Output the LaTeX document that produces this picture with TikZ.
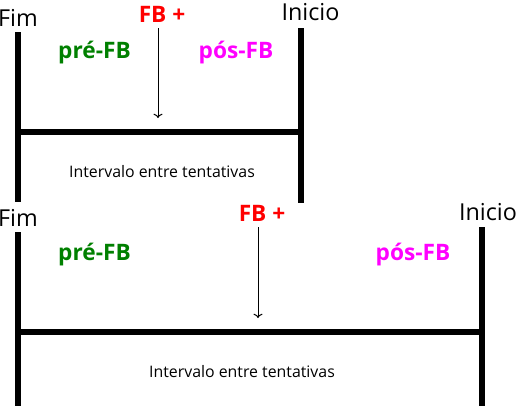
\documentclass[tikz,border=0pt]{standalone}
\usepackage{fontspec}
\setmainfont{Open Sans}
\usetikzlibrary{arrows.meta}

\definecolor{preclr}{RGB}{0,128,0}
\definecolor{posclr}{RGB}{255,0,255}

\begin{document}
\begin{tikzpicture}[x=0.75pt, y=-0.75pt, >=To,
    bar/.style={line width=3.8pt},
    timelbl/.style={font=\fontsize{17.5}{20}\selectfont, inner sep=0pt},
    fblbl/.style={font=\fontsize{17}{20}\selectfont\bfseries, text=red, inner sep=0pt},
    prelbl/.style={font=\fontsize{17}{20}\selectfont\bfseries, text=preclr, inner sep=0pt},
    poslbl/.style={font=\fontsize{17}{20}\selectfont\bfseries, text=posclr, inner sep=0pt},
    gaplbl/.style={font=\fontsize{11.9}{14}\selectfont, inner sep=0pt}]
  \useasboundingbox (0,0) rectangle (517,405);

  % first interval
  \coordinate (fimAtop) at (18,32);
  \coordinate (fimAbot) at (18,202);
  \coordinate (iniAtop) at (301,28);
  \coordinate (iniAbot) at (301,203);
  \draw[bar] (fimAtop) -- (fimAbot);
  \draw[bar] (iniAtop) -- (iniAbot);
  \draw[bar] (fimAtop |- 0,132) -- (iniAtop |- 0,132);
  \node[timelbl, anchor=east] (fimA) at (38,18) {Fim};
  \node[timelbl] (iniA) at (310.5,12) {Inicio};
  \node[fblbl] (fbA) at (162,14) {FB +};
  \node[prelbl] (preA) at (94.5,53) {pré-FB};
  \node[poslbl] (posA) at (236,53) {pós-FB};
  \node[gaplbl] (gapA) at (162,172) {Intervalo entre tentativas};
  \coordinate (arrA) at (158,28);
  \coordinate (tipA) at (158,118);
  \draw[->, line width=0.75pt] (arrA) -- (tipA);

  % second interval
  \coordinate (fimBtop) at (18,232);
  \coordinate (fimBbot) at (18,406);
  \coordinate (iniBtop) at (482,227);
  \coordinate (iniBbot) at (482,406);
  \draw[bar] (fimBtop) -- (fimBbot);
  \draw[bar] (iniBtop) -- (iniBbot);
  \draw[bar] (fimBtop |- 0,332) -- (iniBtop |- 0,332);
  \node[timelbl, anchor=east] (fimB) at (38,218) {Fim};
  \node[timelbl] (iniB) at (488,212) {Inicio};
  \node[fblbl] (fbB) at (262,213) {FB +};
  \node[prelbl] (preB) at (94.5,255) {pré-FB};
  \node[poslbl] (posB) at (413,255) {pós-FB};
  \node[gaplbl] (gapB) at (242,372) {Intervalo entre tentativas};
  \coordinate (arrB) at (258,227);
  \coordinate (tipB) at (258,318);
  \draw[->, line width=0.75pt] (arrB) -- (tipB);
\end{tikzpicture}
\end{document}
